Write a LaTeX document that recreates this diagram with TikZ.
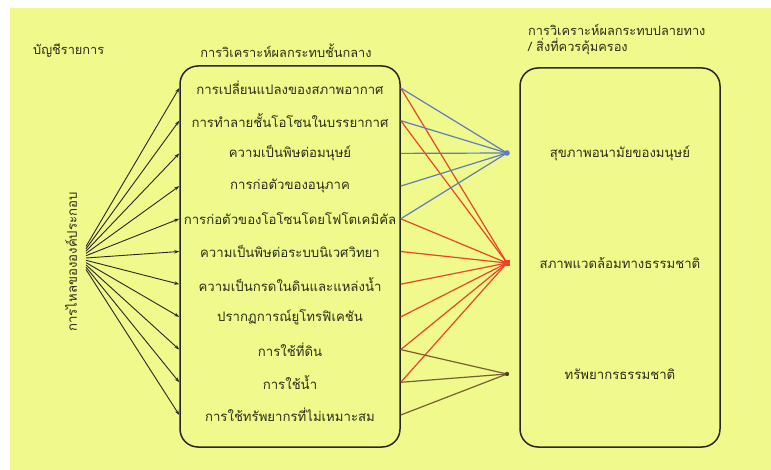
\documentclass[tikz,border=0pt]{standalone}
\usepackage{fontspec}
\newfontfamily\thai[Script=Thai]{Loma}
\usetikzlibrary{arrows.meta,calc}
\definecolor{bg}{RGB}{240,249,140}
\definecolor{ink}{RGB}{42,46,22}
\definecolor{lblue}{RGB}{95,125,190}
\definecolor{lred}{RGB}{232,70,40}
\definecolor{lbrown}{RGB}{120,95,50}
\tikzset{
  bigbox/.style={draw=black!85, line width=1.5pt, rounded corners=18pt, inner sep=0pt},
  item/.style={font=\thai\fontsize{13.2}{15}\selectfont, text=ink, inner sep=1pt},
  head/.style={font=\thai\fontsize{12.8}{15}\selectfont, text=ink, inner sep=1pt},
  flowlabel/.style={font=\thai\fontsize{13.2}{15}\selectfont, text=ink, inner sep=1pt},
  flowarrow/.style={draw=black!85, line width=0.9pt, -{Stealth[length=5pt,width=3.5pt]}},
  blueline/.style={draw=lblue, line width=1.2pt},
  redline/.style={draw=lred, line width=1.2pt},
  brownline/.style={draw=lbrown, line width=1.2pt}
}
\begin{document}
\begin{tikzpicture}[x=1pt,y=-1pt]
\useasboundingbox (0,0) rectangle (771,470);
\fill[white] (0,0) rectangle (771,470);
\fill[bg] (10,8) rectangle (771,470);

% headers
\node[head, anchor=west] (hlist) at (32,51) {บัญชีรายการ};
\node[head] (hmid) at (286,51) {การวิเคราะห์ผลกระทบชั้นกลาง};
\node[head, anchor=west] (hend1) at (527,30) {การวิเคราะห์ผลกระทบปลายทาง};
\node[head, anchor=west] (hend2) at (527,47) {/ สิ่งที่ควรคุ้มครอง};

% boxes
\node[bigbox, minimum width=220pt, minimum height=381pt] (mid) at (290,256.5) {};
\node[bigbox, minimum width=200pt, minimum height=379pt] (endb) at (620,257.5) {};

% items
\foreach \t [count=\k] in {การเปลี่ยนแปลงของสภาพอากาศ,การทำลายชั้นโอโซนในบรรยากาศ,ความเป็นพิษต่อมนุษย์,การก่อตัวของอนุภาค,การก่อตัวของโอโซนโดยโฟโตเคมิคัล,ความเป็นพิษต่อระบบนิเวศวิทยา,ความเป็นกรดในดินและแหล่งน้ำ,ปรากฏการณ์ยูโทรฟิเคชัน,การใช้ที่ดิน,การใช้น้ำ,การใช้ทรัพยากรที่ไม่เหมาะสม}
  \node[item] (i\k) at (290,{88+(\k-1)*32.7}) {\t};

% end labels
\node[item] (lh) at (620,153) {สุขภาพอนามัยของมนุษย์};
\node[item] (le) at (620,263) {สภาพแวดล้อมทางธรรมชาติ};
\node[item] (lr) at (620,374) {ทรัพยากรธรรมชาติ};

\coordinate (h) at (507,153);
\coordinate (e) at (507,263);
\coordinate (r) at (507,374);

% flow label
\node[flowlabel, rotate=90] (flow) at (71,262) {การไหลขององค์ประกอบ};
\coordinate (src) at (86,258);
\foreach \k in {1,...,11}
  \draw[flowarrow] ($(src)+(0,{(\k-6)*2.3})$) -- (mid.west |- i\k);

% impact lines
\foreach \k in {1,2,5,6,7,8,9,10}
  \draw[redline] (mid.east |- i\k) -- (e);
\foreach \k in {1,...,5}
  \draw[blueline] (mid.east |- i\k) -- (h);
\foreach \k in {9,10,11}
  \draw[brownline] (mid.east |- i\k) -- (r);

\fill[lblue] (h) circle (2.8pt);
\fill[lred] ($(e)+(-2.8,-3.2)$) rectangle ($(e)+(2.8,3.2)$);
\fill[lbrown!70!black] (r) circle (2.2pt);
\end{tikzpicture}
\end{document}
